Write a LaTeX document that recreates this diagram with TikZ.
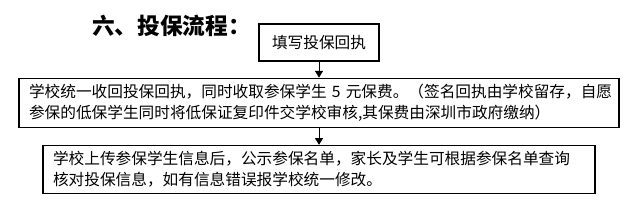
\documentclass[tikz,border=0pt]{standalone}
\usepackage{fontspec}
\newfontfamily\cjk{Noto Sans CJK SC}
\usetikzlibrary{arrows.meta,positioning}

\begin{document}
\begin{tikzpicture}[
        x=0.75pt, y=-0.75pt,
        font=\cjk\fontsize{11.75}{15.75}\selectfont,
        stepbox/.style={rectangle, draw=black, line width=0.9pt, align=left,
                        inner xsep=7.5pt, inner ysep=3pt},
        heading/.style={font=\cjk\bfseries\fontsize{17}{20}\selectfont, inner sep=0pt},
        arr/.style={-{Triangle[length=5pt,width=6pt]}, line width=0.75pt, black}
    ]
        \useasboundingbox (0,0) rectangle (638,216);

        %--- Heading ---
        \node[heading, anchor=west] (title) at (92,26) {六、投保流程：};

        %--- Step boxes ---
        \node[stepbox, align=center, minimum width=90pt, minimum height=27.75pt] (fill) at (319,42.5) {填写投保回执};
        \node[stepbox, below=12pt of fill, text width=435pt, minimum height=36.75pt] (collect)
            {\mbox{学校统一收回投保回执，同时收取参保学生~5~元保费。（签名回执由学校留存，自愿}\\
             参保的低保学生同时将低保证复印件交学校审核,其保费由深圳市政府缴纳）};
        \node[stepbox, below=12.75pt of collect, text width=399pt, minimum height=36pt] (upload)
            {学校上传参保学生信息后，公示参保名单，家长及学生可根据参保名单查询\\
             核对投保信息，如有信息错误报学校统一修改。};

        %--- Arrows ---
        \draw[arr] (fill) -- (collect);
        \draw[arr] (collect) -- (upload);
    \end{tikzpicture}
\end{document}
